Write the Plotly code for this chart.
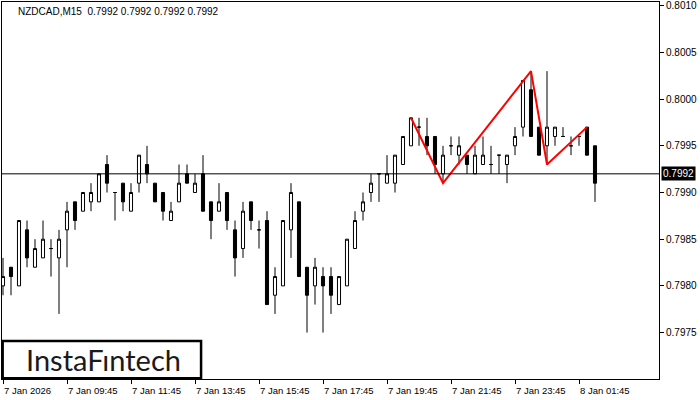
import plotly.graph_objects as go

# ---- data (prices in units of 0.0001) ----
opens = [7980, 7982, 7980, 7986, 7982, 7983, 7984, 7983, 7986, 7989,
         7988, 7989, 7989, 7993, 7990, 7991, 7988, 7991, 7993, 7991,
         7990, 7987, 7989, 7992, 7990, 7992, 7989, 7988, 7990, 7986,
         7984, 7989, 7986, 7987, 7979, 7980, 7986, 7989, 7982, 7980,
         7981, 7981, 7978, 7980, 7984, 7988, 7990, 7992, 7991, 7991,
         7993, 7995, 7997, 7996, 7996, 7992, 7995, 7994, 7994, 7992,
         7993, 7993, 7994, 7993, 7995, 7997, 8001, 7997, 7995, 7996,
         7996, 7995, 7996, 7997, 7995]
highs = [7983, 7982, 7987, 7987, 7985, 7987, 7985, 7986, 7989, 7989,
         7990, 7991, 7992, 7994, 7990, 7991, 7991, 7994, 7995, 7991,
         7990, 7989, 7993, 7993, 7992, 7994, 7989, 7991, 7990, 7987,
         7989, 7989, 7987, 7988, 7982, 7987, 7991, 7989, 7982, 7983,
         7982, 7982, 7981, 7985, 7988, 7990, 7992, 7992, 7994, 7994,
         7996, 7998, 7998, 7998, 7996, 7995, 7996, 7996, 7994, 7995,
         7996, 7995, 7994, 7994, 7997, 8002, 8003, 7997, 8003, 7997,
         7997, 7996, 7996, 7997, 7995]
lows = [7979, 7979, 7980, 7982, 7982, 7983, 7981, 7977, 7982, 7986,
        7988, 7988, 7989, 7990, 7987, 7988, 7988, 7990, 7991, 7989,
        7987, 7987, 7989, 7991, 7990, 7988, 7985, 7988, 7986, 7981,
        7983, 7986, 7984, 7978, 7977, 7980, 7983, 7981, 7975, 7978,
        7975, 7977, 7978, 7980, 7984, 7987, 7989, 7989, 7991, 7990,
        7993, 7995, 7995, 7994, 7992, 7991, 7994, 7993, 7992, 7992,
        7993, 7992, 7992, 7991, 7994, 7996, 7996, 7994, 7993, 7995,
        7996, 7994, 7995, 7994, 7989]
closes = [7981, 7981, 7987, 7983, 7984, 7985, 7984, 7985, 7988, 7987,
          7990, 7990, 7992, 7991, 7990, 7989, 7990, 7994, 7992, 7989,
          7988, 7988, 7991, 7991, 7991, 7988, 7987, 7989, 7987, 7983,
          7988, 7987, 7986, 7978, 7981, 7987, 7990, 7981, 7979, 7982,
          7980, 7979, 7981, 7985, 7987, 7989, 7991, 7992, 7992, 7994,
          7996, 7998, 7997, 7995, 7993, 7994, 7995, 7995, 7993, 7994,
          7994, 7993, 7994, 7994, 7996, 8002, 7996, 7994, 7997, 7997,
          7996, 7995, 7996, 7994, 7991]

# pattern (red line): bar index and price
pattern_bars = [51, 55, 66, 68, 73]
pattern_prices = [7998, 7991, 8003, 7993, 7997]

current_price = 0.7992
header_text = "NZDCAD,M15  0.7992 0.7992 0.7992 0.7992"

x_tick_bars = [0, 8, 16, 24, 32, 40, 48, 56, 64, 72]
x_tick_labels = ["7 Jan 2026", "7 Jan 09:45", "7 Jan 11:45", "7 Jan 13:45",
                 "7 Jan 15:45", "7 Jan 17:45", "7 Jan 19:45", "7 Jan 21:45",
                 "7 Jan 23:45", "8 Jan 01:45"]
y_ticks = [0.7975, 0.7980, 0.7985, 0.7990, 0.7995, 0.8000, 0.8005, 0.8010]

S = 0.0001
xs = list(range(len(opens)))

fig = go.Figure()
fig.add_trace(go.Candlestick(
    x=xs,
    open=[v * S for v in opens], high=[v * S for v in highs],
    low=[v * S for v in lows], close=[v * S for v in closes],
    increasing=dict(line=dict(color="black", width=1), fillcolor="white"),
    decreasing=dict(line=dict(color="black", width=1), fillcolor="black"),
    whiskerwidth=0, showlegend=False, hoverinfo="skip",
))
fig.add_trace(go.Scatter(
    x=pattern_bars, y=[v * S for v in pattern_prices], mode="lines",
    line=dict(color="#ff0000", width=2), showlegend=False, hoverinfo="skip",
))

fig.add_shape(type="line", xref="paper", x0=0, x1=1, yref="y",
              y0=current_price, y1=current_price,
              line=dict(color="black", width=1), layer="above")

# logo box
fig.add_shape(type="rect", xref="paper", yref="paper",
              x0=0.001, x1=0.303, y0=0.002, y1=0.101,
              line=dict(color="black", width=2.5), fillcolor="white", layer="above")
fig.add_annotation(xref="paper", yref="paper", x=0.154, y=0.052,
                   text="InstaF\u0131ntech", showarrow=False,
                   font=dict(family="Lato", size=29, color="#1a1a1a"),
                   xanchor="center", yanchor="middle")

# header
fig.add_annotation(xref="paper", yref="paper", x=0.022, y=0.996,
                   text=header_text, showarrow=False, xanchor="left", yanchor="top",
                   font=dict(family="Liberation Sans", size=10, color="black"))

# current price label
fig.add_annotation(xref="paper", yref="y", x=1, y=current_price,
                   text="0.7992", showarrow=False, xanchor="left", yanchor="middle",
                   xshift=2, bgcolor="black", borderpad=1,
                   font=dict(family="Liberation Sans", size=10, color="white"))

# x tick labels (left aligned at tick)
for b, t in zip(x_tick_bars, x_tick_labels):
    fig.add_annotation(xref="x", yref="paper", x=b, y=0, text=t, showarrow=False,
                       xanchor="left", yanchor="top", yshift=-4, xshift=-1,
                       font=dict(family="Liberation Sans", size=9.5, color="black"))

fig.update_layout(
    width=700, height=400,
    margin=dict(l=2, r=41, t=2, b=21, autoexpand=False),
    paper_bgcolor="white", plot_bgcolor="white",
    boxgap=0.45,
    xaxis=dict(range=[-0.125, 82.0], showgrid=False, zeroline=False,
               rangeslider=dict(visible=False),
               tickvals=x_tick_bars, ticktext=[""] * len(x_tick_bars),
               ticks="outside", ticklen=4, tickcolor="black",
               showline=True, linecolor="black", linewidth=1, mirror=True),
    yaxis=dict(range=[0.797003, 0.80104], side="right", showgrid=False,
               zeroline=False, tickvals=y_ticks, tickformat=".4f",
               ticks="outside", ticklen=4, tickcolor="black",
               tickfont=dict(family="Liberation Sans", size=10, color="black"),
               showline=True, linecolor="black", linewidth=1, mirror=True),
)

fig.write_html("out.html", config={"displayModeBar": False},
               post_script="document.body.style.margin='0';document.body.style.padding='0';")
